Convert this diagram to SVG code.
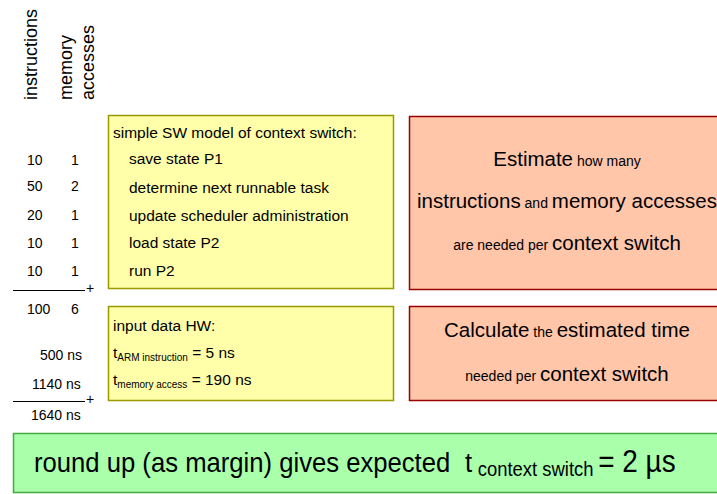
<svg xmlns="http://www.w3.org/2000/svg" width="717" height="494" viewBox="0 0 717 494">
<style>
text{font-family:"Liberation Sans",Arial,sans-serif;fill:#000}
.hdr{font-size:18px}
.num{font-size:14px}
.yl{fill:#FFFFAA;stroke:#999900;stroke-width:1.5}
.rd{fill:#FFC6AA;stroke:#990000;stroke-width:1.5}
.gr{fill:#AAFFAA;stroke:#44AA44;stroke-width:1.5}
.t{font-size:15.5px}
.big{font-size:20.5px}
.sm{font-size:14px}
.rule{stroke:#000;stroke-width:1}
</style>
<g id="headers">
<text class="hdr" transform="translate(37,100) rotate(-90)">instructions</text>
<text class="hdr" transform="translate(72,100) rotate(-90)">memory</text>
<text class="hdr" transform="translate(94,100) rotate(-90)">accesses</text>
</g>
<g id="counts" class="num">
<text class="num" x="27" y="165">10</text><text class="num" x="71" y="165">1</text>
<text class="num" x="27" y="191">50</text><text class="num" x="71" y="191">2</text>
<text class="num" x="27" y="220">20</text><text class="num" x="71" y="220">1</text>
<text class="num" x="27" y="248">10</text><text class="num" x="71" y="248">1</text>
<text class="num" x="27" y="276">10</text><text class="num" x="71" y="276">1</text>
<line class="rule" x1="13" y1="290.5" x2="85" y2="290.5"/>
<text class="num" x="86" y="293">+</text>
<text class="num" x="27" y="314">100</text><text class="num" x="71" y="314">6</text>
<text class="num" x="40" y="360">500 ns</text>
<text class="num" x="32" y="389">1140 ns</text>
<line class="rule" x1="13" y1="401.5" x2="85" y2="401.5"/>
<text class="num" x="86" y="404">+</text>
<text class="num" x="31" y="420">1640 ns</text>
</g>
<g id="sw-model">
<rect class="yl" x="108.5" y="115.5" width="285" height="173"/>
<text class="t" x="113" y="138">simple SW model of context switch:</text>
<text class="t" x="129" y="164">save state P1</text>
<text class="t" x="129" y="193">determine next runnable task</text>
<text class="t" x="129" y="221">update scheduler administration</text>
<text class="t" x="129" y="248">load state P2</text>
<text class="t" x="129" y="276">run P2</text>
</g>
<g id="hw-input">
<rect class="yl" x="108.5" y="306.5" width="285" height="94"/>
<text class="t" x="113" y="331">input data HW:</text>
<text class="t" x="113" y="358">t<tspan font-size="10" dy="3">ARM instruction</tspan><tspan dy="-3"> = 5 ns</tspan></text>
<text class="t" x="113" y="385">t<tspan font-size="10" dy="3">memory access</tspan><tspan dy="-3"> = 190 ns</tspan></text>
</g>
<g id="estimate">
<rect class="rd" x="409.5" y="116.5" width="316" height="173"/>
<text x="567" y="166" text-anchor="middle"><tspan class="big">Estimate</tspan><tspan class="sm"> how many</tspan></text>
<text x="567" y="208" text-anchor="middle"><tspan class="big">instructions</tspan><tspan class="sm"> and </tspan><tspan class="big">memory accesses</tspan></text>
<text x="567" y="250" text-anchor="middle"><tspan class="sm">are needed per </tspan><tspan class="big">context switch</tspan></text>
</g>
<g id="calculate">
<rect class="rd" x="409.5" y="306.5" width="316" height="94"/>
<text x="567" y="337" text-anchor="middle"><tspan class="big">Calculate</tspan><tspan class="sm"> the </tspan><tspan class="big">estimated time</tspan></text>
<text x="567" y="381" text-anchor="middle"><tspan class="sm">needed per </tspan><tspan class="big">context switch</tspan></text>
</g>
<g id="result">
<rect class="gr" x="13.5" y="433.5" width="715" height="59"/>
<g transform="translate(34,472) scale(0.9,1)">
<text x="0" y="0" font-size="28.5">round up (as margin) gives expected</text>
<text x="479" y="0" font-size="28.5">t<tspan x="493" font-size="20.5" dy="4">context switch</tspan><tspan x="627" dy="-4" font-size="31">= 2 µs</tspan></text>
</g>
</g>
<g id="connectors"></g>
</svg>
